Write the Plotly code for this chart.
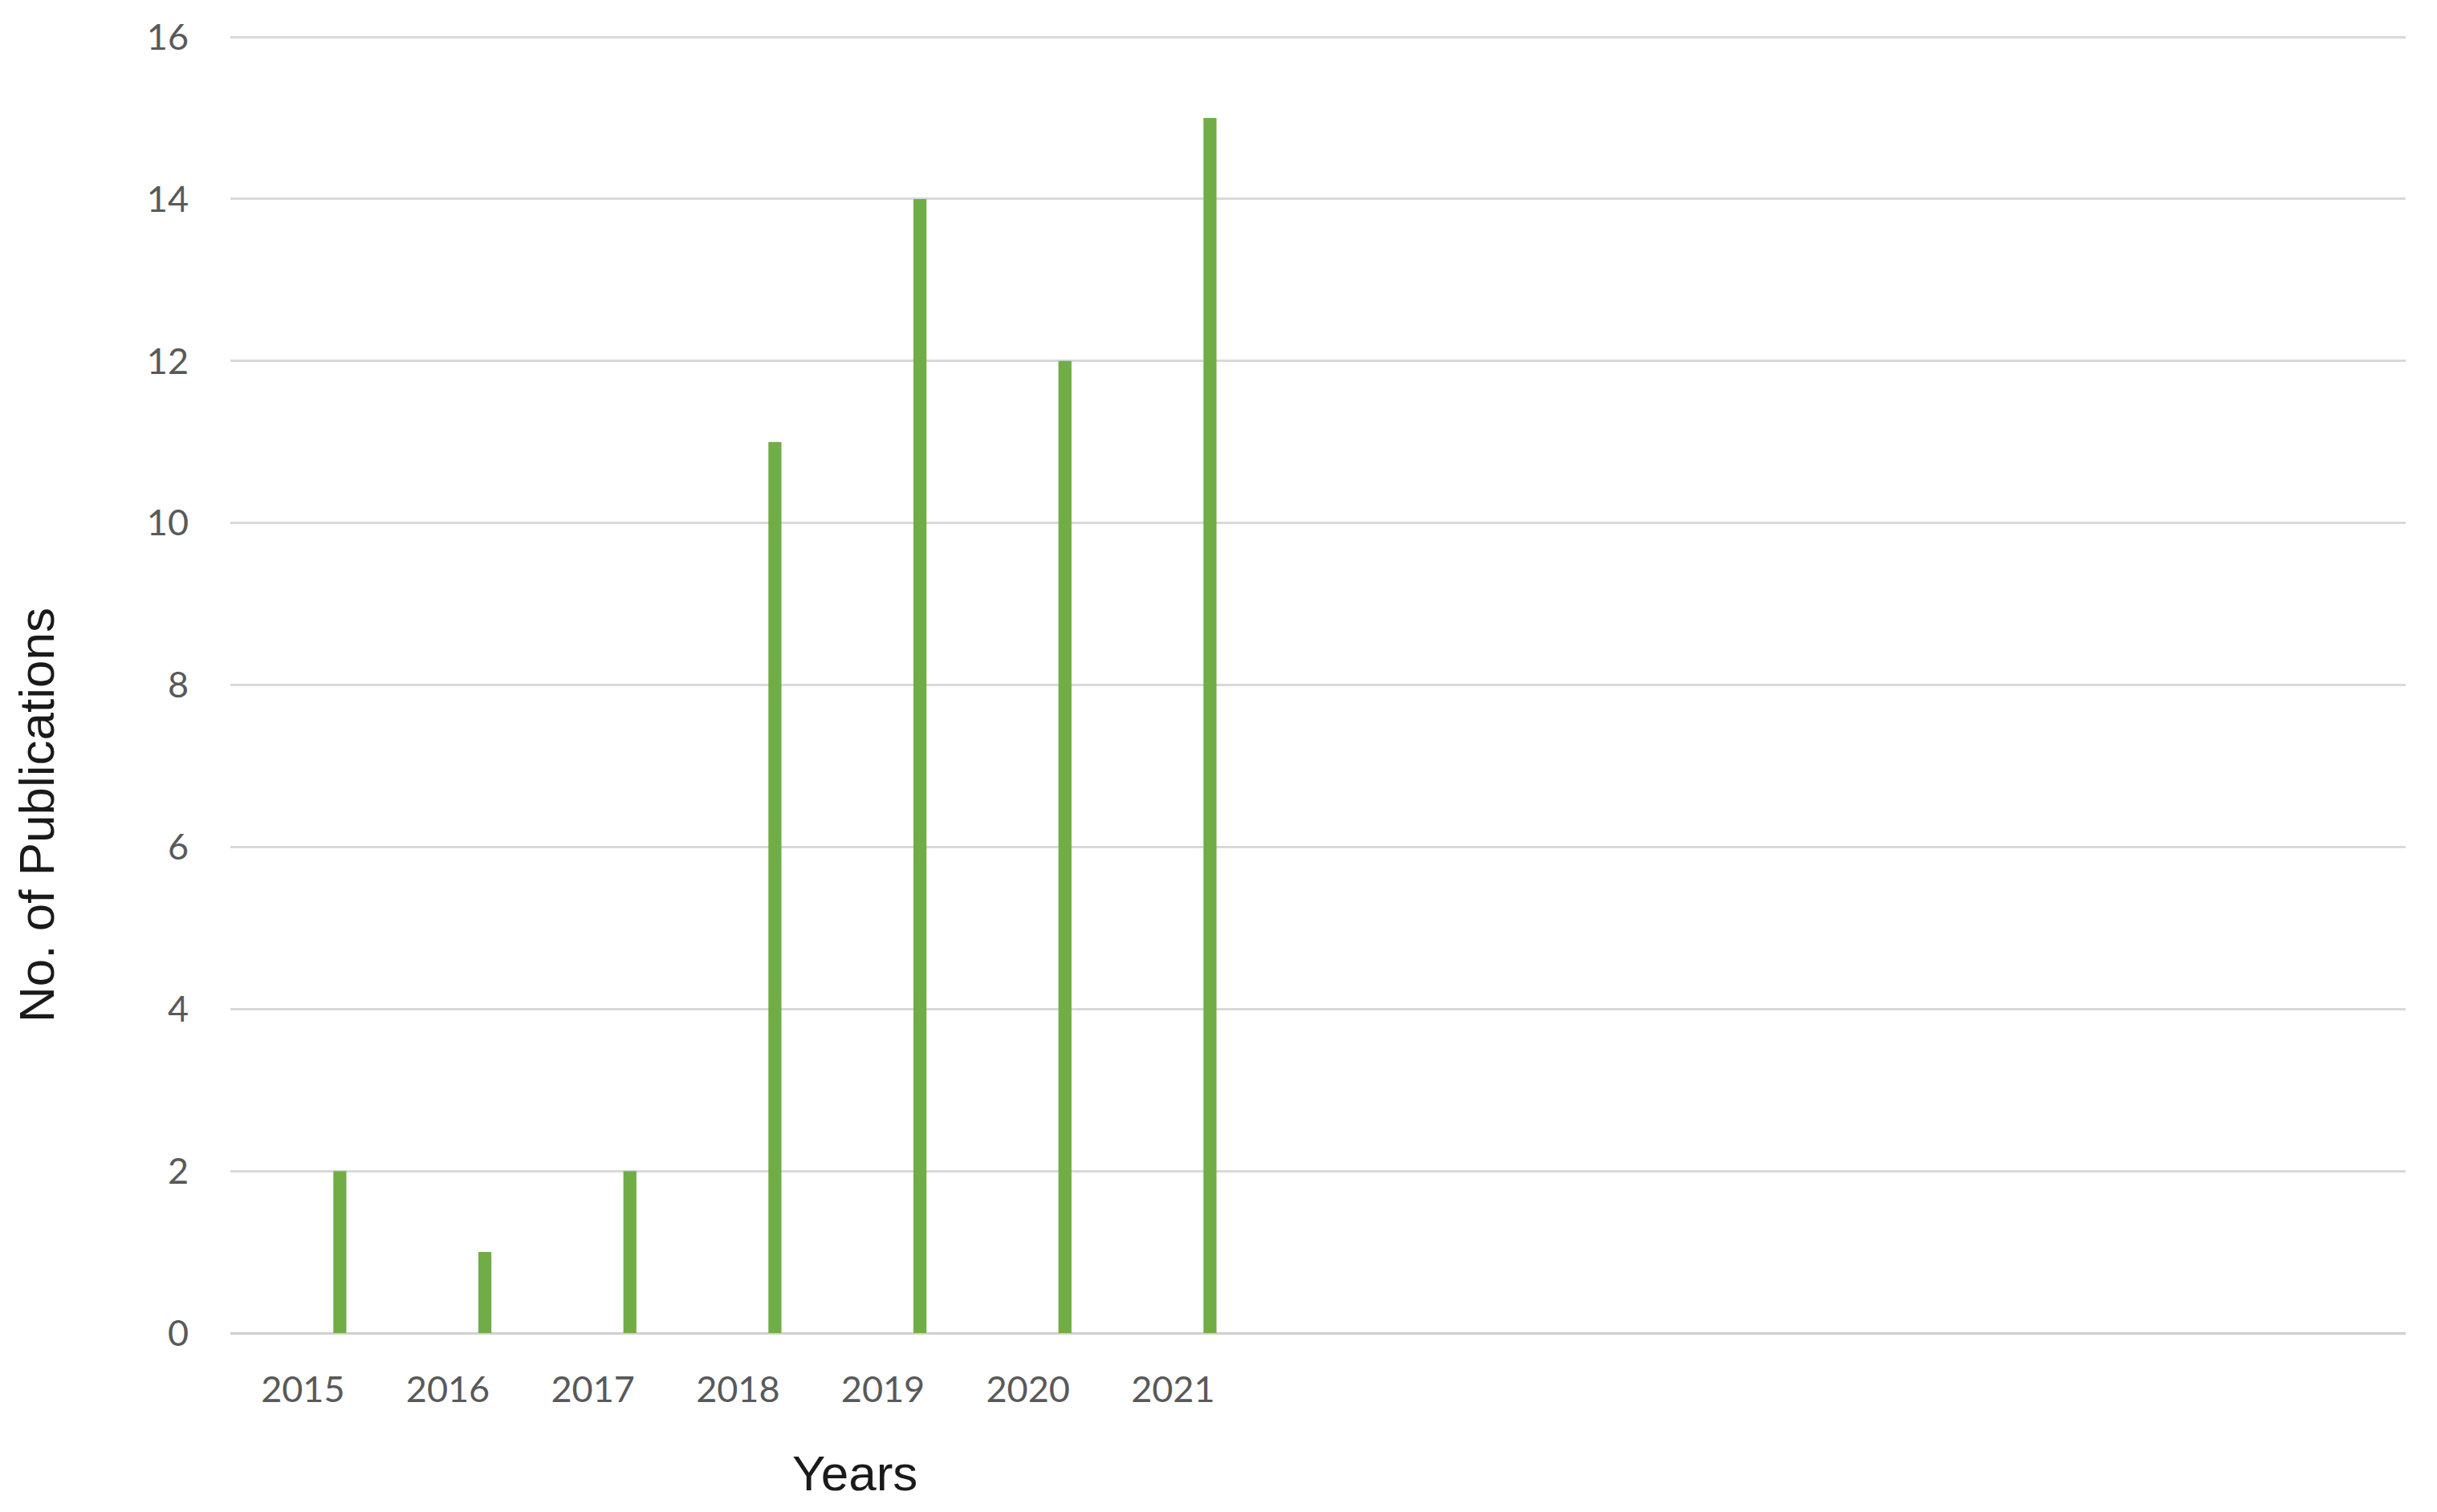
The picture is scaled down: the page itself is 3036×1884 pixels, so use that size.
import plotly.graph_objects as go

years = [2015, 2016, 2017, 2018, 2019, 2020, 2021]
publications = [2, 1, 2, 11, 14, 12, 15]
y_ticks = [0, 2, 4, 6, 8, 10, 12, 14, 16]

fig = go.Figure()
fig.add_trace(go.Bar(
    x=years, y=publications,
    marker=dict(color="#70AD47", line=dict(width=0)),
    offset=0.21, width=0.09,
    hoverinfo="x+y",
))

tick_font = dict(family="Lato, Noto Sans, sans-serif", size=45, color="#595959")
title_font = dict(family="Liberation Sans, Arial, sans-serif", size=62, color="#1a1a1a")

# page has an 8px body margin; figure placed at (8, 8)
PAD = 8
W, H = 3036 - 2 * PAD, 1884 - 2 * PAD
L, R, T, B = 287 - PAD, 2997 - PAD, 43 - PAD, 1661 - PAD

fig.update_layout(
    width=W, height=H,
    margin=dict(l=L, r=W - R, t=T, b=H - B),
    paper_bgcolor="white", plot_bgcolor="white",
    showlegend=False,
    xaxis=dict(
        range=[2014.5, 2029.5], automargin=False,
        tickmode="array", tickvals=years, ticktext=[str(y) for y in years],
        showgrid=False, zeroline=False, showline=False,
        ticks="outside", ticklen=31, tickcolor="rgba(0,0,0,0)",
        tickfont=tick_font, fixedrange=True,
    ),
    yaxis=dict(
        range=[0, 16.03], automargin=False,
        tickmode="array", tickvals=y_ticks,
        showgrid=True, gridcolor="#d9d9d9", gridwidth=2.5,
        zeroline=True, zerolinecolor="#d0d0d0", zerolinewidth=3,
        showline=False,
        ticks="outside", ticklen=42, tickcolor="rgba(0,0,0,0)",
        tickfont=tick_font, fixedrange=True,
    ),
    annotations=[
        dict(text="Years", xref="paper", yref="paper",
             x=(1065 - PAD - L) / (R - L), y=-(1835 - PAD - B) / (B - T),
             xanchor="center", yanchor="middle", showarrow=False, font=title_font),
        dict(text="No. of Publications", xref="paper", yref="paper",
             x=-(L - (46 - PAD)) / (R - L), y=(B - (1016 - PAD)) / (B - T),
             xanchor="center", yanchor="middle", textangle=-90, showarrow=False, font=title_font),
    ],
)

fig.write_html("out.html")
